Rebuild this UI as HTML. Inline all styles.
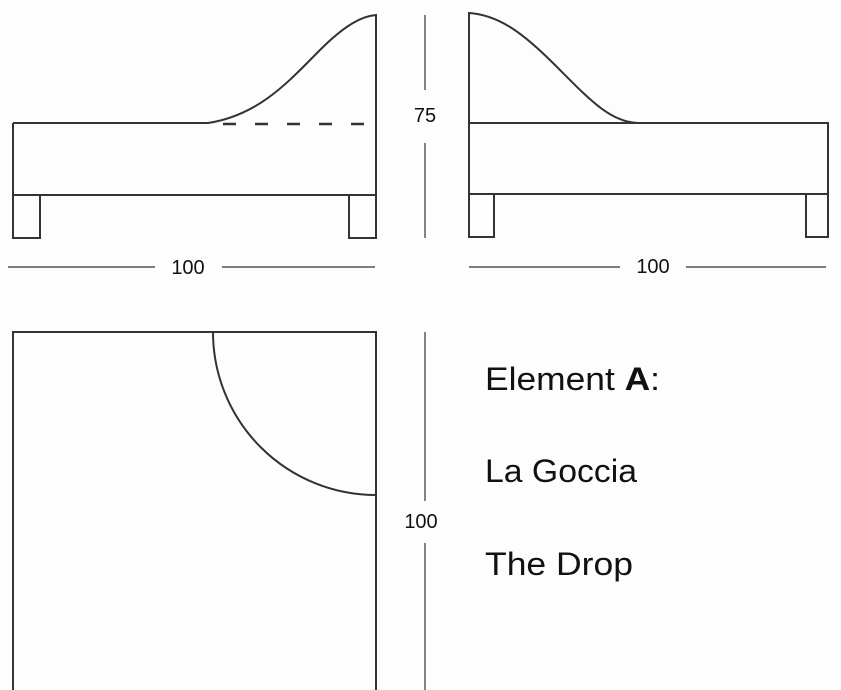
<!DOCTYPE html>
<html><head><meta charset="utf-8"><style>
html,body{margin:0;padding:0;background:#fdfdfd;}
svg{display:block;}
text{font-family:"Liberation Sans",sans-serif;fill:#111;}
</style></head><body>
<svg width="841" height="690" viewBox="0 0 841 690" xmlns="http://www.w3.org/2000/svg">
<g fill="none" stroke="#333" stroke-width="2">
<path d="M13,123 H208 C260,115 290,80 320,50 C345,25 362,16 376,15 V238 H349 V195"/>
<path d="M13,123 V238 H40 V195"/>
<line x1="13" y1="195" x2="376" y2="195"/>
<line x1="223" y1="124" x2="365" y2="124" stroke-dasharray="13,19" stroke-width="2.4"/>
<path d="M469,237 V13 C500,15 525,35 555,65 C590,100 610,122 638,123"/>
<rect x="469" y="123" width="359" height="71"/>
<path d="M469,194 V237 H494 V194"/>
<path d="M806,194 V237 H828 V194"/>
<path d="M13,700 V332 H376 V700"/>
<path d="M213,332 A163,163 0 0 0 376,495"/>
</g>
<g stroke="#333" stroke-width="1.2">
<line x1="425" y1="15" x2="425" y2="90"/>
<line x1="425" y1="143" x2="425" y2="238"/>
<line x1="8" y1="267" x2="155" y2="267"/>
<line x1="222" y1="267" x2="375" y2="267"/>
<line x1="469" y1="267" x2="620" y2="267"/>
<line x1="686" y1="267" x2="826" y2="267"/>
<line x1="425" y1="332" x2="425" y2="501"/>
<line x1="425" y1="543" x2="425" y2="690"/>
</g>
<text x="425" y="122" font-size="20" text-anchor="middle">75</text>
<text x="188" y="274" font-size="20" text-anchor="middle">100</text>
<text x="653" y="273" font-size="20" text-anchor="middle">100</text>
<text x="421" y="528" font-size="20" text-anchor="middle">100</text>
<text x="485" y="390" font-size="32" textLength="175" lengthAdjust="spacingAndGlyphs">Element <tspan font-weight="bold">A</tspan>:</text>
<text x="485" y="482" font-size="32" textLength="152" lengthAdjust="spacingAndGlyphs">La Goccia</text>
<text x="485" y="575" font-size="32" textLength="148" lengthAdjust="spacingAndGlyphs">The Drop</text>
</svg>
</body></html>
